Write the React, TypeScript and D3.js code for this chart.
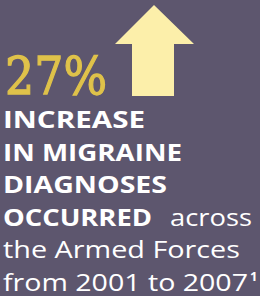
import { useRef, useEffect } from 'react';
import * as d3 from 'd3';

// figure + arrow
const headline = ['27%'];
const arrowPts: [number, number][] = [
  [154, 5], [194, 44], [174, 44], [174, 96], [132, 96], [132, 44], [115, 44],
];

// text lines: [text, weight, x, baseline, textLength]
const lineText = ['INCREASE', 'IN MIGRAINE', 'DIAGNOSES', 'OCCURRED', 'across', 'the Armed Forces', 'from 2001 to 2007'];
const lineBold = [true, true, true, true, false, false, false];
const lineRow = [0, 1, 2, 3, 3, 4, 5];
const lineX = [3, 3, 3, 3, 170, 3, 3];
const lineLen = [142, 179, 164, 149, 82, 237, 245];
const footnote = ['1'];

const W = 260;
const H = 296;

function App() {
  const ref = useRef(null);

  useEffect(() => {
    const svg = d3.select(ref.current);
    svg.selectAll('*').remove();

    svg.append('rect')
      .attr('width', W)
      .attr('height', H)
      .attr('fill', '#5d566e');

    svg.append('path')
      .attr('d', d3.line()(arrowPts) + 'Z')
      .attr('fill', '#fcefaa');

    svg.append('text')
      .attr('x', 5)
      .attr('y', 94)
      .attr('fill', '#dfc24a')
      .attr('stroke', '#dfc24a')
      .attr('stroke-width', 1.3)
      .style('font-family', "'DejaVu Serif', serif")
      .style('font-size', '52px')
      .attr('textLength', 102)
      .attr('lengthAdjust', 'spacingAndGlyphs')
      .text(headline[0]);

    const y = d3.scaleLinear().domain([0, 5]).range([128, 290.5]);

    svg.append('g')
      .selectAll('text')
      .data(lineText)
      .join('text')
      .attr('x', (d, i) => lineX[i])
      .attr('y', (d, i) => y(lineRow[i]))
      .attr('fill', '#ffffff')
      .style('font-family', "'Open Sans', sans-serif")
      .style('font-size', '23px')
      .style('font-weight', (d, i) => (lineBold[i] ? 700 : 400))
      .attr('textLength', (d, i) => lineLen[i])
      .attr('lengthAdjust', 'spacingAndGlyphs')
      .text(d => d);

    svg.append('text')
      .attr('x', 250)
      .attr('y', y(5) - 10)
      .attr('fill', '#ffffff')
      .style('font-family', "'Open Sans', sans-serif")
      .style('font-size', '13px')
      .style('font-weight', 700)
      .text(footnote[0]);
  }, []);

  return (
    <svg ref={ref} width={W} height={H} style={{ position: 'absolute', left: 0, top: 0 }}></svg>
  );
}

export default App;
